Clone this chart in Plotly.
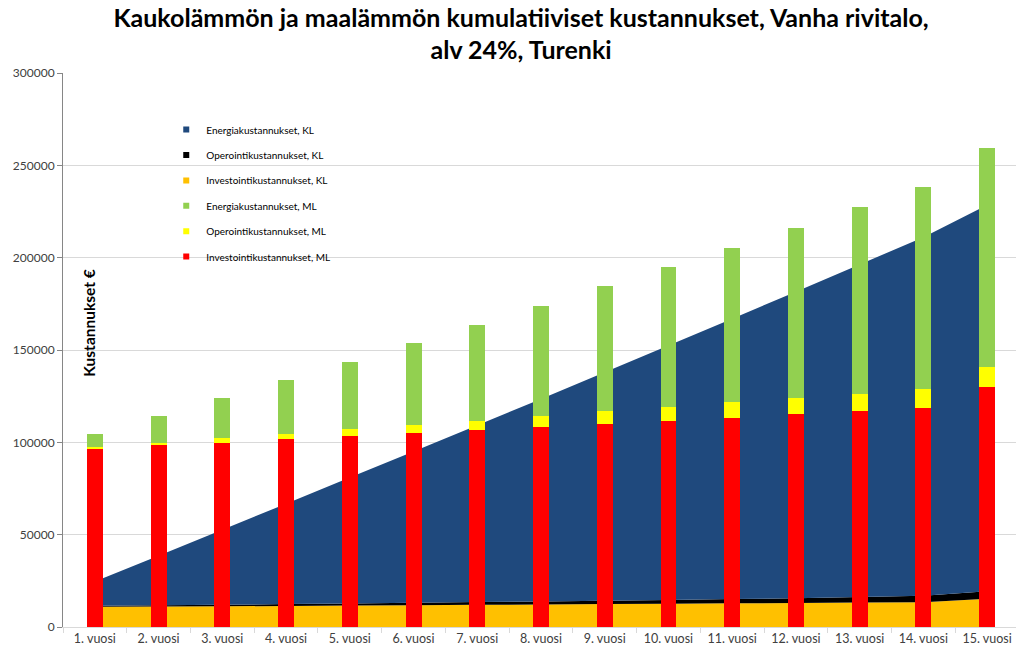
import plotly.graph_objects as go

years = ["1. vuosi", "2. vuosi", "3. vuosi", "4. vuosi", "5. vuosi", "6. vuosi", "7. vuosi",
         "8. vuosi", "9. vuosi", "10. vuosi", "11. vuosi", "12. vuosi", "13. vuosi",
         "14. vuosi", "15. vuosi"]

# Kaukolämpö (KL) - cumulative, stacked area
invest_kl = [11000, 11100, 11200, 11400, 11600, 11800, 12000, 12200, 12400, 12600,
             12800, 13000, 13200, 13400, 15300]
oper_kl = [500, 700, 800, 1000, 1100, 1300, 1500, 1600, 1800, 2000,
           2300, 2600, 3000, 3500, 4000]
energy_kl = [13100, 26800, 40650, 54350, 68200, 82000, 95800, 109700, 123700, 137800,
             151850, 166000, 180100, 194200, 209200]

# Maalämpö (ML) - cumulative, stacked bars
invest_ml = [96800, 98300, 99900, 101600, 103300, 105000, 106700, 108400, 110100, 111700,
             113400, 115100, 116800, 118500, 130000]
oper_ml = [800, 1600, 2400, 3100, 3700, 4300, 5100, 5800, 6600, 7400,
           8200, 8800, 9500, 10300, 10800]
energy_ml = [6900, 14300, 21600, 29100, 36600, 44400, 52000, 59800, 67700, 75800,
             83900, 92400, 100900, 109500, 118600]

y_ticks = [0, 50000, 100000, 150000, 200000, 250000, 300000]

C_BLUE = "#1F497D"
C_BLACK = "#000000"
C_ORANGE = "#FFC000"
C_GREEN = "#92D050"
C_YELLOW = "#FFFF00"
C_RED = "#FF0000"

FONT = "Lato"

fig = go.Figure()

# stacked areas (KL)
for name, vals, col in [("Investointikustannukset, KL", invest_kl, C_ORANGE),
                        ("Operointikustannukset, KL", oper_kl, C_BLACK),
                        ("Energiakustannukset, KL", energy_kl, C_BLUE)]:
    fig.add_trace(go.Scatter(x=years, y=vals, name=name, stackgroup="kl", mode="none",
                             fillcolor=col, line=dict(width=0), showlegend=False,
                             xaxis="x", yaxis="y", hoverinfo="x+y+name"))

# stacked bars (ML), on an overlaying x axis so they are drawn above the areas
for name, vals, col in [("Investointikustannukset, ML", invest_ml, C_RED),
                        ("Operointikustannukset, ML", oper_ml, C_YELLOW),
                        ("Energiakustannukset, ML", energy_ml, C_GREEN)]:
    fig.add_trace(go.Bar(x=years, y=vals, name=name, marker=dict(color=col, line=dict(width=0)),
                         showlegend=False, xaxis="x2", yaxis="y"))

# legend entries (small square swatches)
legend_items = [("Energiakustannukset, KL", C_BLUE),
                ("Operointikustannukset, KL", C_BLACK),
                ("Investointikustannukset, KL", C_ORANGE),
                ("Energiakustannukset, ML", C_GREEN),
                ("Operointikustannukset, ML", C_YELLOW),
                ("Investointikustannukset, ML", C_RED)]
for i, (name, col) in enumerate(legend_items):
    fig.add_trace(go.Scatter(x=[None], y=[None], mode="markers", name=name,
                             marker=dict(symbol="square", size=6, color=col),
                             legendgroup="g%d" % i, showlegend=True,
                             xaxis="x", yaxis="y"))

fig.update_layout(
    width=1016, height=644,
    margin=dict(l=50, r=5, t=65, b=25),
    paper_bgcolor="white", plot_bgcolor="white",
    font=dict(family=FONT, size=12, color="#404040"),
    title=dict(text="Kaukolämmön ja maalämmön kumulatiiviset kustannukset, Vanha rivitalo,<br>alv 24%, Turenki",
               x=0.505, xanchor="center", yref="container", y=0.9705, yanchor="top",
               pad=dict(t=0, b=0),
               font=dict(family=FONT, size=25, color="#000000", weight="bold")),
    barmode="stack", bargap=0.75,
    showlegend=True,
    legend=dict(x=0.108, xanchor="left", y=0.924, yanchor="top",
                font=dict(family=FONT, size=10, color="#000000"),
                bgcolor="rgba(0,0,0,0)", borderwidth=0,
                traceorder="grouped", tracegroupgap=6.4, itemwidth=30),
    xaxis=dict(type="category", categoryorder="array", categoryarray=years,
               range=[-0.5, 14.5], showgrid=False, showline=True, linecolor="#D9D9D9",
               linewidth=1, ticks="outside", tickson="boundaries", ticklen=5,
               tickcolor="#D9D9D9", tickfont=dict(family=FONT, size=12.5, color="#404040"),
               zeroline=False, fixedrange=True),
    xaxis2=dict(type="category", categoryorder="array", categoryarray=years,
                range=[-0.5, 14.5], overlaying="x", visible=False, fixedrange=True),
    yaxis=dict(range=[0, 300000], tickvals=y_ticks, tickformat="d", showgrid=True,
               gridcolor="#D9D9D9", gridwidth=1, showline=True, linecolor="#868686",
               linewidth=1, ticks="outside", ticklen=5, tickcolor="#868686",
               tickfont=dict(family=FONT, size=12, color="#404040"), zeroline=False),
    annotations=[dict(text="<b>Kustannukset €</b>", xref="paper", yref="paper",
                      x=0.027, y=0.549, xanchor="center", yanchor="middle",
                      textangle=-90, showarrow=False,
                      font=dict(family=FONT, size=15.5, color="#000000"))],
)

fig.write_html("out.html")
